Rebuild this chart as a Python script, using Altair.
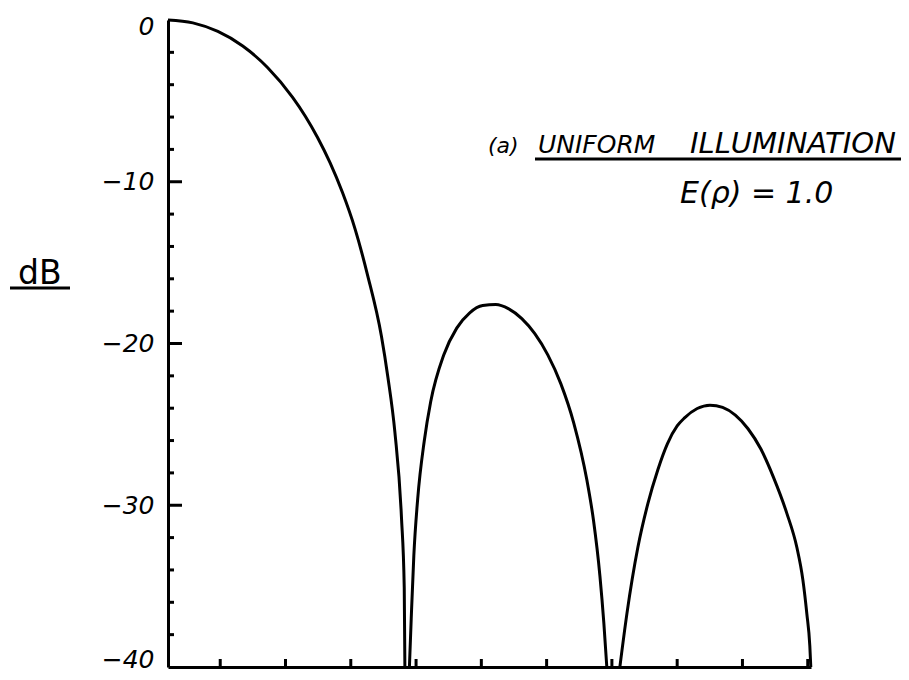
import altair as alt
import pandas as pd

# ---- data (x in axis-tick units, y in dB) ----
main_x = [0.200, 0.581, 0.964, 1.345, 1.728, 2.109, 2.301, 2.491, 2.682, 2.873,
          3.065, 3.255, 3.469, 3.569, 3.676, 3.776, 3.819, 3.829]
main_db = [0.0, -0.18, -0.71, -1.61, -2.95, -4.78, -5.93, -7.26, -8.82, -10.67,
           -12.91, -15.74, -19.54, -22.10, -25.50, -30.72, -35.1, -40.0]

lobe2_x = [3.898, 3.926, 3.966, 4.025, 4.125, 4.224, 4.424, 4.623, 4.822, 5.021,
           5.220, 5.420, 5.620, 5.819, 6.018, 6.217, 6.416, 6.616, 6.718, 6.816,
           6.877, 6.922]
lobe2_db = [-40.0, -37.0, -33.1, -29.6, -26.04, -23.6, -20.71, -19.05, -18.10, -17.65,
            -17.59, -17.86, -18.46, -19.39, -20.70, -22.48, -24.92, -28.43, -30.93, -34.35,
            -37.3, -40.0]

lobe3_x = [7.122, 7.230, 7.398, 7.551, 7.704, 7.850, 8.000, 8.113, 8.307, 8.502,
           8.696, 8.891, 9.085, 9.280, 9.474, 9.680, 9.833, 9.925, 9.986, 10.032, 10.047]
lobe3_db = [-40.0, -36.7, -32.6, -29.9, -27.8, -26.2, -25.1, -24.6, -24.02, -23.81,
            -23.95, -24.43, -25.27, -26.51, -28.26, -30.5, -32.6, -34.6, -36.7, -38.7, -40.0]

x_ticks = [1, 2, 3, 4, 5, 6, 7, 8, 9, 10]
y_labels = [0, -10, -20, -30, -40]
y_major = [-10, -20, -30]
y_minor = [-2, -4, -6, -8, -12, -14, -16, -18, -22, -24, -26, -28, -32, -34, -36, -38]

title_a = "(a)"
title_1 = "UNIFORM"
title_2 = "ILLUMINATION"
formula = "E(ρ) = 1.0"
ylabel = "dB"

W, H = 643, 647

rows = []
for name, xs, ys in (("main", main_x, main_db), ("lobe2", lobe2_x, lobe2_db), ("lobe3", lobe3_x, lobe3_db)):
    for a, b in zip(xs, ys):
        rows.append({"lobe": name, "x": a, "db": b})
df = pd.DataFrame(rows)

FONT = "DejaVu Sans"

x_scale = alt.Scale(domain=[0.2, 10.05], nice=False, zero=False)
y_scale = alt.Scale(domain=[-40, 0], nice=False, zero=False)
x_axis = alt.Axis(domain=True, domainColor="black", domainWidth=3, ticks=False,
                  labels=False, grid=False, title=None)
y_axis = alt.Axis(values=y_labels, domain=True, domainColor="black", domainWidth=3,
                  ticks=False, grid=False, title=None, labelFont=FONT,
                  labelFontSize=25, labelColor="black", labelPadding=14,
                  labelFontStyle="italic",
                  labelOffset={"condition": [{"test": "datum.value == 0", "value": 6},
                                             {"test": "datum.value == -40", "value": -8}],
                               "value": 0})

curve = alt.Chart(df).mark_line(color="black", strokeWidth=3, interpolate="monotone").encode(
    x=alt.X("x:Q", scale=x_scale, axis=x_axis),
    y=alt.Y("db:Q", scale=y_scale, axis=y_axis),
    detail="lobe:N",
)

major = alt.Chart(pd.DataFrame({"v": y_major})).mark_rule(color="black", strokeWidth=3).encode(
    y=alt.Y("v:Q", scale=y_scale, axis=y_axis), x=alt.value(0), x2=alt.value(14))
minor = alt.Chart(pd.DataFrame({"v": y_minor})).mark_rule(color="black", strokeWidth=3).encode(
    y=alt.Y("v:Q", scale=y_scale, axis=y_axis), x=alt.value(0), x2=alt.value(6))
xt = alt.Chart(pd.DataFrame({"v": x_ticks})).mark_rule(color="black", strokeWidth=3).encode(
    x=alt.X("v:Q", scale=x_scale, axis=x_axis), y=alt.value(H), y2=alt.value(H - 8))

def label(text, px, py, size, style="italic", align="left"):
    return alt.Chart(pd.DataFrame({"t": [text]})).mark_text(
        font=FONT, fontSize=size, fontStyle=style, align=align, baseline="alphabetic",
        color="black").encode(text="t:N", x=alt.value(px), y=alt.value(py))

t_a = label(title_a, 320, 133, 22)
t_1 = label(title_1, 370, 133, 25)
t_2 = label(title_2, 522, 133, 29)
t_f = label(formula, 512, 183, 30)
t_db = label(ylabel, -150, 264, 33, style="normal")

ul_title = alt.Chart(pd.DataFrame({"a": [0]})).mark_rule(color="black", strokeWidth=3).encode(
    x=alt.value(367), x2=alt.value(733), y=alt.value(139))
ul_db = alt.Chart(pd.DataFrame({"a": [0]})).mark_rule(color="black", strokeWidth=3).encode(
    x=alt.value(-158), x2=alt.value(-98), y=alt.value(268))

chart = alt.layer(curve, major, minor, xt, t_a, t_1, t_2, t_f, t_db, ul_title, ul_db).properties(
    width=W, height=H,
    background="white",
    autosize=alt.AutoSizeParams(type="none"),
    padding={"left": 160, "top": 12, "right": 90, "bottom": 5},
).configure_view(stroke=None)

chart.save("out.html", embed_options={"renderer": "svg", "actions": False})
